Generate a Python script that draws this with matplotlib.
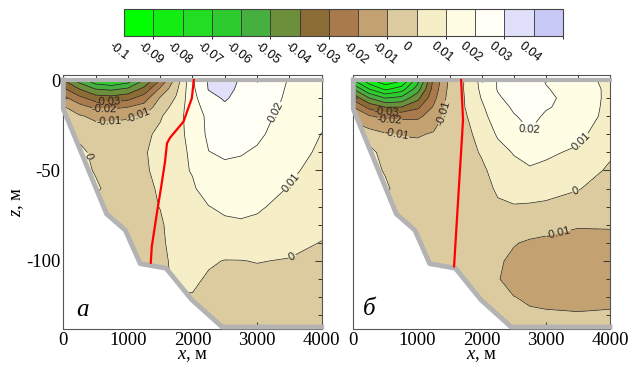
import numpy as np
import matplotlib
matplotlib.use('Agg')
import matplotlib.pyplot as plt
from matplotlib.colors import ListedColormap, BoundaryNorm
from matplotlib.ticker import MultipleLocator

plt.rcParams['font.family'] = 'Liberation Serif'
plt.rcParams['mathtext.fontset'] = 'custom'
plt.rcParams['mathtext.rm'] = 'Liberation Serif'
plt.rcParams['mathtext.it'] = 'Liberation Serif:italic'
plt.rcParams['axes.unicode_minus'] = False

# grid of the section (m)
x_grid = [0, 250, 500, 750, 1000, 1250, 1500, 1750, 2000, 2250, 2500, 2750, 3000, 3500, 4000]
z_grid = [0, -5, -10, -15, -20, -30, -40, -50, -60, -70, -80, -90, -100, -110, -120, -140]

# field values, one list per x column (top to bottom)
field_a = [
    [-0.040, -0.028, -0.017, -0.009, -0.006, -0.004, 0.002, -0.004, -0.004, -0.004, -0.004, -0.004, -0.004, -0.004, -0.004, -0.004],
    [-0.055, -0.040, -0.027, -0.016, -0.009, -0.004, 0.004, 0.004, -0.004, -0.004, -0.004, -0.004, -0.004, -0.004, -0.004, -0.004],
    [-0.068, -0.050, -0.035, -0.022, -0.012, -0.005, -0.004, -0.001, 0.002, -0.004, -0.004, -0.004, -0.004, -0.004, -0.004, -0.004],
    [-0.072, -0.052, -0.036, -0.022, -0.012, -0.005, -0.004, -0.004, -0.004, -0.004, -0.004, -0.004, -0.004, -0.004, -0.004, -0.004],
    [-0.066, -0.048, -0.033, -0.020, -0.011, -0.005, -0.004, -0.004, -0.004, -0.004, -0.004, -0.004, -0.004, -0.004, -0.004, -0.004],
    [-0.050, -0.037, -0.025, -0.016, -0.009, -0.002, -0.0008, -0.001, -0.002, -0.003, -0.004, -0.004, -0.004, -0.004, -0.004, -0.004],
    [-0.030, -0.018, -0.009, -0.005, -0.001, 0.002, 0.003, 0.002, 0.001, 0.0003, -0.0015, -0.002, -0.003, -0.003, -0.003, -0.003],
    [-0.006, -0.002, 0.001, 0.004, 0.006, 0.007, 0.008, 0.008, 0.007, 0.006, 0.005, 0.004, 0.003, 0.002, -0.0005, -0.001],
    [0.019, 0.018, 0.017, 0.016, 0.015, 0.013, 0.011, 0.0105, 0.009, 0.007, 0.006, 0.004, 0.003, 0.0015, -0.0005, -0.002],
    [0.031, 0.0305, 0.027, 0.024, 0.022, 0.022, 0.0198, 0.017, 0.0135, 0.0098, 0.008, 0.005, 0.001, -0.001, -0.002, -0.003],
    [0.034, 0.033, 0.031, 0.0285, 0.026, 0.023, 0.021, 0.0185, 0.015, 0.0115, 0.0085, 0.005, -0.0003, -0.002, -0.003, -0.003],
    [0.029, 0.028, 0.027, 0.0255, 0.024, 0.022, 0.0205, 0.018, 0.0155, 0.012, 0.009, 0.0045, -0.0002, -0.002, -0.003, -0.003],
    [0.026, 0.0255, 0.025, 0.024, 0.023, 0.0215, 0.019, 0.0165, 0.014, 0.011, 0.0085, 0.005, 0.0003, -0.002, -0.003, -0.003],
    [0.0195, 0.019, 0.0185, 0.018, 0.017, 0.0155, 0.0135, 0.0115, 0.0095, 0.0075, 0.0055, 0.0025, -0.0005, -0.002, -0.003, -0.003],
    [0.015, 0.0145, 0.014, 0.013, 0.012, 0.0098, 0.0085, 0.007, 0.0055, 0.004, 0.0022, -0.0003, -0.0015, -0.0025, -0.003, -0.003],
]

field_b = [
    [-0.070, -0.050, -0.033, -0.020, -0.012, -0.006, 0.004, 0.004, -0.004, -0.004, -0.004, -0.004, -0.004, -0.004, -0.004, -0.004],
    [-0.088, -0.070, -0.050, -0.033, -0.019, -0.006, 0.004, 0.004, -0.004, -0.004, -0.004, -0.004, -0.004, -0.004, -0.004, -0.004],
    [-0.099, -0.082, -0.060, -0.040, -0.023, -0.009, -0.005, -0.001, 0.002, -0.004, -0.004, -0.004, -0.004, -0.004, -0.004, -0.004],
    [-0.092, -0.075, -0.057, -0.040, -0.022, -0.0105, -0.006, -0.005, -0.005, -0.005, -0.005, -0.005, -0.005, -0.005, -0.005, -0.005],
    [-0.065, -0.055, -0.043, -0.032, -0.022, -0.011, -0.006, -0.005, -0.005, -0.005, -0.005, -0.005, -0.005, -0.005, -0.005, -0.005],
    [-0.028, -0.026, -0.023, -0.019, -0.016, -0.009, -0.006, -0.005, -0.005, -0.005, -0.005, -0.005, -0.005, -0.005, -0.005, -0.005],
    [-0.008, -0.007, -0.006, -0.006, -0.0055, -0.005, -0.005, -0.005, -0.005, -0.005, -0.005, -0.005, -0.005, -0.005, -0.005, -0.005],
    [0.001, 0.001, 0.0005, 0.0003, -0.0008, -0.003, -0.004, -0.004, -0.004, -0.004, -0.004, -0.004, -0.004, -0.004, -0.004, -0.004],
    [0.013, 0.012, 0.0105, 0.0085, 0.007, 0.004, 0.001, -0.002, -0.004, -0.005, -0.005, -0.005, -0.005, -0.005, -0.005, -0.005],
    [0.0205, 0.0205, 0.019, 0.017, 0.015, 0.011, 0.007, 0.004, 0.0015, -0.0015, -0.005, -0.007, -0.009, -0.0095, -0.009, -0.008],
    [0.024, 0.0235, 0.0225, 0.021, 0.0195, 0.0145, 0.0105, 0.0075, 0.003, -0.0005, -0.006, -0.0095, -0.0115, -0.013, -0.0098, -0.009],
    [0.024, 0.0245, 0.024, 0.023, 0.0218, 0.0195, 0.013, 0.009, 0.004, -0.001, -0.006, -0.011, -0.0125, -0.0135, -0.011, -0.007],
    [0.0195, 0.0205, 0.021, 0.0205, 0.0192, 0.016, 0.0115, 0.008, 0.003, -0.0015, -0.0075, -0.0115, -0.013, -0.0135, -0.0115, -0.007],
    [0.013, 0.0165, 0.018, 0.0178, 0.017, 0.0125, 0.0085, 0.005, 0.0005, -0.004, -0.0095, -0.012, -0.013, -0.0135, -0.012, -0.007],
    [0.008, 0.0075, 0.007, 0.0065, 0.006, 0.004, 0.0015, -0.0015, -0.004, -0.007, -0.0095, -0.0115, -0.0125, -0.013, -0.0115, -0.007],
]

# bottom profile
bathy_x = [0, 0, 670, 960, 1190, 1590, 1990, 2460, 4000]
bathy_z = [0, -16, -74, -83, -101.5, -104, -121.5, -136.5, -136.5]

# red lines
red_a_x = [2020, 1990, 1860, 1650, 1605, 1575, 1524, 1447, 1370, 1354]
red_a_z = [0, -10, -23, -32, -35, -45, -57, -74, -92, -101]
red_b_x = [1680, 1710, 1570]
red_b_z = [0, -22, -103]

levels = [-0.1, -0.09, -0.08, -0.07, -0.06, -0.05, -0.04, -0.03, -0.02, -0.01,
          0.0, 0.01, 0.02, 0.03, 0.04, 0.05]
cbar_labels = ['-0.1', '-0.09', '-0.08', '-0.07', '-0.06', '-0.05', '-0.04', '-0.03',
               '-0.02', '-0.01', '0', '0.01', '0.02', '0.03', '0.04']
band_colors = ['#00ff00', '#12ee12', '#22dd22', '#2ecb2e', '#45b040', '#6b8f3a', '#8a6c34',
               '#a87a4c', '#c4a170', '#dccb9e', '#f5eec6', '#fffde3', '#fffff6', '#e0e0fa', '#c9c9f7']

# label positions for contour labels
lab_a = [(700, -12), (640, -16.5), (700, -22), (1160, -18.5), (400, -42),
         (3320, -18), (3500, -56), (3550, -98)]
lab_b = [(520, -17.5), (565, -21), (670, -31), (1380, -18), (2730, -28),
         (3548, -34), (3470, -62), (3185, -83)]

cmap = ListedColormap(band_colors)
norm = BoundaryNorm(levels, cmap.N)


def fmt(v):
    if abs(v) < 1e-9:
        return '0'
    return '%g' % v


fig = plt.figure(figsize=(6.3, 3.74), dpi=100)
ax_a = fig.add_axes([63.3/630, 1-329/374, 258.4/630, 253.5/374])
ax_b = fig.add_axes([353.3/630, 1-329/374, 256.7/630, 253.5/374])
cb_left, cb_bottom, cb_width, cb_height = 124/630, 1-36/374, 439/630, 27/374
cax = fig.add_axes([cb_left, cb_bottom, cb_width, cb_height])


def draw_panel(ax, field, red_x, red_z, lab_pos, letter, lx, ly):
    F = np.array(field).T
    cf = ax.contourf(x_grid, z_grid, F, levels=levels, cmap=cmap, norm=norm)
    cs = ax.contour(x_grid, z_grid, F, levels=levels, colors='#222222', linewidths=0.5,
                    negative_linestyles='solid')
    texts = ax.clabel(cs, manual=lab_pos, fmt=fmt, fontsize=8, inline=True, inline_spacing=1)
    for t in texts:
        t.set_fontfamily('Liberation Sans')
    ax.fill_between(bathy_x, bathy_z, -150, color='white', zorder=2.5, lw=0)
    ax.plot(bathy_x, bathy_z, color='#b3b3b3', lw=3.5, zorder=4, clip_on=False)
    ax.plot([0, 4000], [0, 0], color='#b3b3b3', lw=3, zorder=4, clip_on=False)
    ax.plot(red_x, red_z, color='#ff0000', lw=1.6, zorder=5)
    ax.set_xlim(0, 4000)
    ax.set_ylim(-137.6, 2.5)
    ax.xaxis.set_major_locator(MultipleLocator(1000))
    ax.xaxis.set_minor_locator(MultipleLocator(500))
    ax.yaxis.set_major_locator(MultipleLocator(50))
    ax.yaxis.set_minor_locator(MultipleLocator(10))
    ax.tick_params(which='both', direction='in', top=True, right=True,
                   labelsize=13.5, color='#333333', width=0.7, pad=2)
    ax.tick_params(which='major', length=5)
    ax.tick_params(which='minor', length=3)
    for s in ax.spines.values():
        s.set_color('#555555')
        s.set_linewidth(0.8)
    ax.set_xlabel('$x$, м', fontsize=13.5, labelpad=-1)
    ax.text(lx, ly, letter, transform=ax.transAxes, fontsize=18, style='italic',
            ha='left', va='baseline', zorder=6)
    return cf


cf_a = draw_panel(ax_a, field_a, red_a_x, red_a_z, lab_a, 'а', 0.052, 0.051)
draw_panel(ax_b, field_b, red_b_x, red_b_z, lab_b, 'б', 0.038, 0.055)
ax_a.set_ylabel('$z$, м', fontsize=13.5, labelpad=0)
ax_b.tick_params(labelleft=False)

# colour scale
cb = fig.colorbar(cf_a, cax=cax, orientation='horizontal', drawedges=True)
cb.outline.set_edgecolor('#444444')
cb.outline.set_linewidth(0.8)
cb.dividers.set_color('#333333')
cb.dividers.set_linewidth(0.6)
cax.tick_params(length=0, labelbottom=False)
span = levels[-1] - levels[0]
for lv, lab in zip(levels[:-1], cbar_labels):
    xf = cb_left + (lv - levels[0]) / span * cb_width - 10/630
    fig.text(xf, cb_bottom - 4/374, lab, rotation=-38, rotation_mode='anchor',
             ha='left', va='top', fontsize=9, family='Liberation Sans')

fig.savefig('out.png', dpi=100)
